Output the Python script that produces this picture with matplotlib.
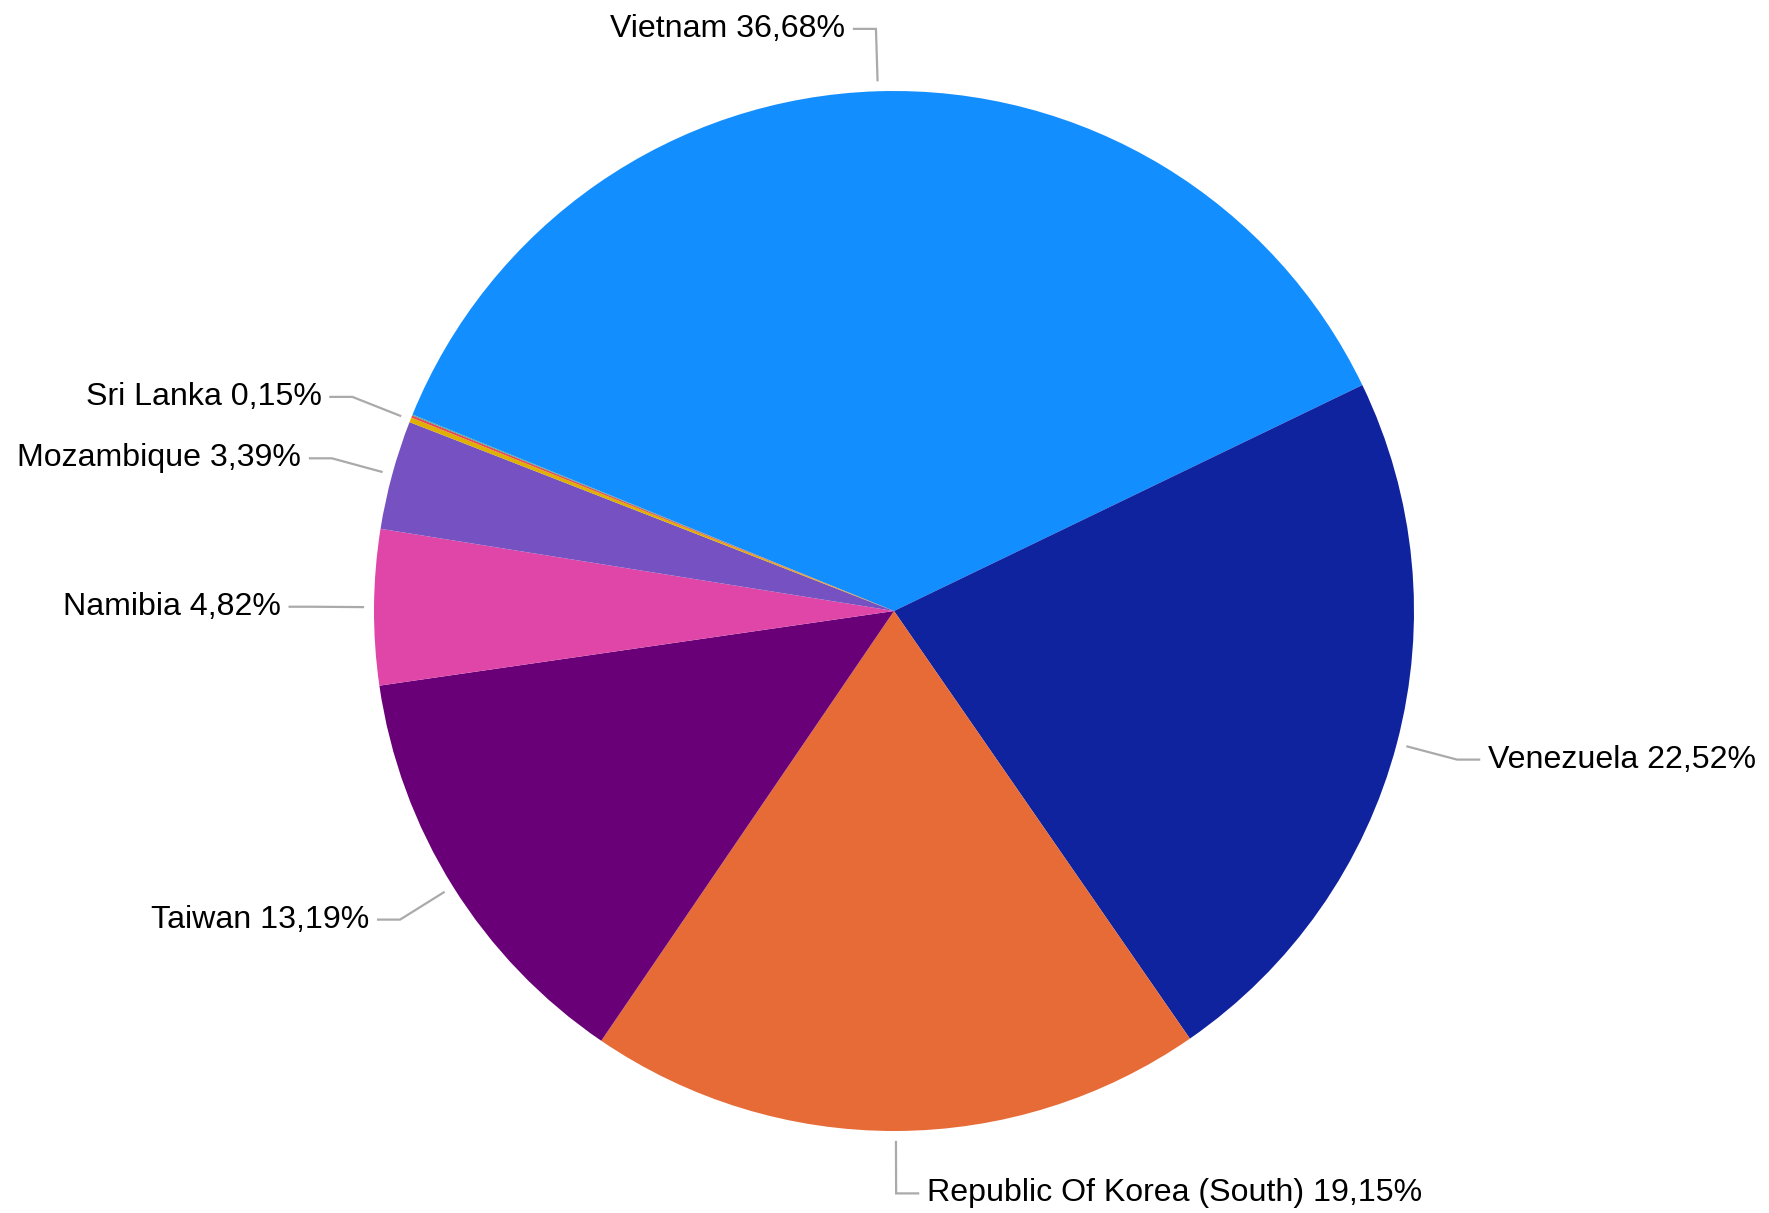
import numpy as np
import matplotlib.pyplot as plt

plt.rcParams['font.family'] = ['Liberation Sans', 'DejaVu Sans']

# slice data, clockwise from Vietnam
countries = ['Vietnam', 'Venezuela', 'Republic Of Korea (South)', 'Taiwan',
             'Namibia', 'Mozambique', 'Sri Lanka', '', '']
shares = [36.68, 22.52, 19.15, 13.19, 4.82, 3.39, 0.15, 0.07, 0.03]
colors = ['#138eff', '#10239e', '#e66b37', '#6a0078', '#e046a8',
          '#7651c1', '#dfb000', '#e64a55', '#3aa6a0']

W, H = 1769, 1213
cx, cy, r = 894, 602, 520

fig = plt.figure(figsize=(W / 100, H / 100), dpi=100)
ax = fig.add_axes([0, 0, 1, 1])

wedges, _ = ax.pie(shares, colors=colors, startangle=157.8, counterclock=False,
                   center=(cx, cy), radius=r, frame=True,
                   wedgeprops=dict(linewidth=0))
ax.set_xlim(0, W)
ax.set_ylim(0, H)
ax.set_aspect('equal')
ax.axis('off')

# labels with elbow connectors
for w, name, val in zip(wedges, countries, shares):
    if not name:
        continue
    ang = np.deg2rad((w.theta1 + w.theta2) / 2)
    c, s = np.cos(ang), np.sin(ang)
    x0, y0 = cx + (r + 11) * c, cy + (r + 11) * s
    x1, y1 = cx + r * 1.12 * c, cy + r * 1.12 * s
    side = 1 if c >= 0 else -1
    x2 = x1 + side * 22
    ax.plot([x0, x1, x2], [y0, y1, y1], color='#aaaaaa', lw=1.6,
            solid_joinstyle='miter')
    txt = '%s %s%%' % (name, ('%.2f' % val).replace('.', ','))
    ax.text(x2 + side * 9, y1, txt, fontsize=23.1, color='#000000',
            ha='left' if side > 0 else 'right', va='center')

fig.savefig('out.png', dpi=100, facecolor='white')
